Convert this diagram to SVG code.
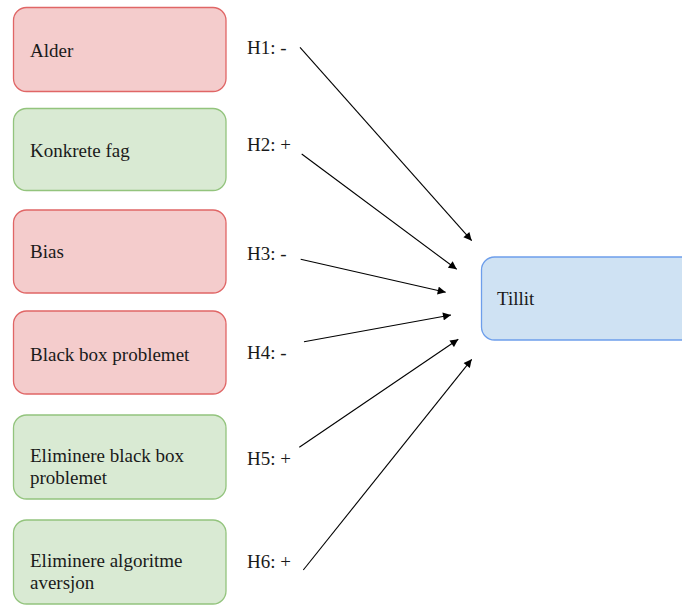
<svg xmlns="http://www.w3.org/2000/svg" width="682" height="605" viewBox="0 0 682 605">
<defs>
<style>
.red{fill:#f4cccc;stroke:#e06666;stroke-width:1.3}
.green{fill:#d9ead3;stroke:#93c47d;stroke-width:1.3}
.blue{fill:#cfe2f3;stroke:#6d9eeb;stroke-width:1.3}
.t{font-family:'Liberation Serif','Times New Roman',serif;font-size:19px;fill:#1a1a1a}
.edge{stroke:#000;stroke-width:1.1;fill:none;marker-end:url(#ah)}
</style>
<marker id="ah" viewBox="0 0 10 10" refX="10" refY="5" markerWidth="10" markerHeight="8" markerUnits="userSpaceOnUse" orient="auto">
<path d="M0,0 L10,5 L0,10 z" fill="#000"/>
</marker>
</defs>
<rect width="682" height="605" fill="#fff"/>
<g class="t" font-family="Liberation Serif, Times New Roman, serif">
<g id="n-alder"><rect class="red" x="13.5" y="7.5" width="212.5" height="84" rx="13"/><text x="30" y="57">Alder</text></g>
<g id="n-konkrete"><rect class="green" x="13.5" y="108.5" width="212.5" height="82" rx="13"/><text x="30" y="157">Konkrete fag</text></g>
<g id="n-bias"><rect class="red" x="13.5" y="210" width="212.5" height="83" rx="13"/><text x="30" y="258">Bias</text></g>
<g id="n-blackbox"><rect class="red" x="13.5" y="311" width="212.5" height="83" rx="13"/><text x="30" y="360.5">Black box problemet</text></g>
<g id="n-elim-bb"><rect class="green" x="13.5" y="415" width="212.5" height="84" rx="13"/><text x="30" y="462.3">Eliminere black box</text><text x="30" y="483.8">problemet</text></g>
<g id="n-elim-alg"><rect class="green" x="13.5" y="520" width="212.5" height="84" rx="13"/><text x="30" y="567.3">Eliminere algoritme</text><text x="30" y="588.8">aversjon</text></g>
<g id="n-tillit"><rect class="blue" x="481.5" y="257" width="215" height="83" rx="13"/><text x="497" y="305">Tillit</text></g>
<g id="labels">
<text x="247" y="54">H1: -</text>
<text x="247" y="151">H2: +</text>
<text x="247" y="260">H3: -</text>
<text x="247" y="359">H4: -</text>
<text x="247" y="465">H5: +</text>
<text x="247" y="568">H6: +</text>
</g>
</g>
<g id="connectors">
<line class="edge" x1="300" y1="47.3" x2="471.7" y2="240.7"/>
<line class="edge" x1="301.7" y1="154" x2="456.7" y2="269.3"/>
<line class="edge" x1="300.7" y1="259.3" x2="445.7" y2="292.3"/>
<line class="edge" x1="304" y1="341.7" x2="451" y2="315"/>
<line class="edge" x1="299.3" y1="447.3" x2="458.3" y2="339.3"/>
<line class="edge" x1="303.3" y1="570" x2="471.7" y2="359.3"/>
</g>
</svg>
